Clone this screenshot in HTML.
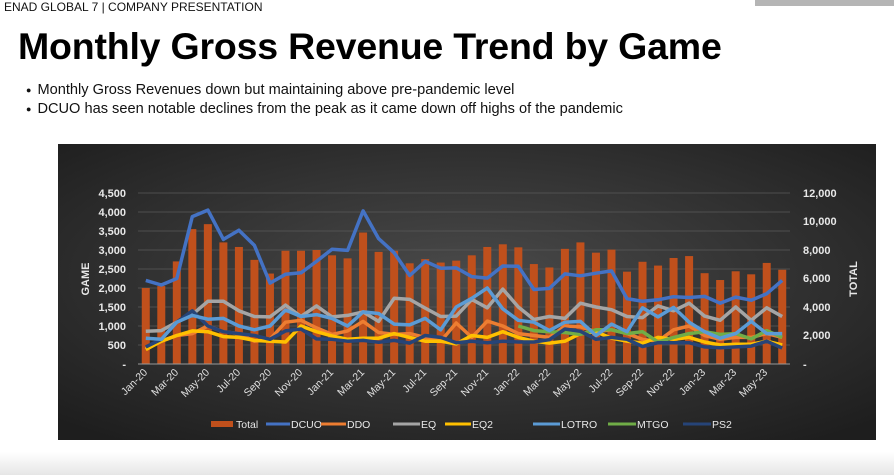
<!DOCTYPE html>
<html><head><meta charset="utf-8"><style>
body{margin:0;width:894px;height:475px;background:#fff;overflow:hidden;position:relative;font-family:"Liberation Sans",sans-serif}
.hdr{position:absolute;left:4px;top:0px;font-size:12px;color:#111}
.bar{position:absolute;left:755px;top:0;width:139px;height:6px;background:#b5b5b5}
h1{position:absolute;left:18px;top:25px;margin:0;font-size:37.5px;font-weight:bold;color:#000;letter-spacing:-0.2px}
ul{position:absolute;left:26px;top:81px;margin:0;padding:0;list-style:none;font-size:14.6px;color:#111;line-height:19px}
ul li:before{content:"\25CF";font-size:9px;margin-right:6px;vertical-align:1px}
svg{position:absolute;left:0;top:0}
.foot{position:absolute;left:0;top:452px;width:894px;height:23px;background:linear-gradient(#fff,#e6e6e6)}
</style></head><body>
<div class="hdr">ENAD GLOBAL 7 | COMPANY PRESENTATION</div>
<div class="bar"></div>
<h1>Monthly Gross Revenue Trend by Game</h1>
<ul><li>Monthly Gross Revenues down but maintaining above pre-pandemic level</li>
<li>DCUO has seen notable declines from the peak as it came down off highs of the pandemic</li></ul>
<div class="foot"></div>
<svg width="894" height="475" font-family="Liberation Sans, sans-serif">
<defs><radialGradient id="bg" cx="0.5" cy="0.45" r="0.7"><stop offset="0" stop-color="#4a4a4a"/><stop offset="1" stop-color="#1e1e1e"/></radialGradient></defs>
<rect x="58" y="144" width="818" height="296" fill="url(#bg)"/>
<g id="grid" stroke="#5a5a5a" stroke-width="0.7"></g>
<g id="bars" fill="#c0501c"></g>
<g id="lines" fill="none" stroke-width="3.5" stroke-linejoin="round"></g>
<line x1="138" y1="364" x2="790" y2="364" stroke="#999" stroke-width="1"/>
<g fill="#e8e8e8" font-size="11" font-weight="bold" text-anchor="end">
<text x="126" y="197">4,500</text><text x="126" y="216">4,000</text><text x="126" y="235">3,500</text><text x="126" y="254">3,000</text><text x="126" y="273">2,500</text><text x="126" y="292">2,000</text><text x="126" y="311">1,500</text><text x="126" y="330">1,000</text><text x="126" y="349">500</text><text x="126" y="368">-</text>
</g>
<g fill="#e8e8e8" font-size="11" font-weight="bold">
<text x="803" y="197">12,000</text><text x="803" y="225">10,000</text><text x="803" y="254">8,000</text><text x="803" y="282">6,000</text><text x="803" y="311">4,000</text><text x="803" y="339">2,000</text><text x="803" y="368">-</text>
</g>
<text transform="translate(89,279) rotate(-90)" fill="#e8e8e8" font-size="11" font-weight="bold" text-anchor="middle">GAME</text>
<text transform="translate(857,279) rotate(-90)" fill="#e8e8e8" font-size="11" font-weight="bold" text-anchor="middle">TOTAL</text>
<g fill="#e0e0e0" font-size="10.5" text-anchor="end">
<text transform="translate(148,373) rotate(-45)">Jan-20</text>
<text transform="translate(179,373) rotate(-45)">Mar-20</text>
<text transform="translate(210,373) rotate(-45)">May-20</text>
<text transform="translate(241,373) rotate(-45)">Jul-20</text>
<text transform="translate(272,373) rotate(-45)">Sep-20</text>
<text transform="translate(303,373) rotate(-45)">Nov-20</text>
<text transform="translate(334,373) rotate(-45)">Jan-21</text>
<text transform="translate(365,373) rotate(-45)">Mar-21</text>
<text transform="translate(396,373) rotate(-45)">May-21</text>
<text transform="translate(427,373) rotate(-45)">Jul-21</text>
<text transform="translate(458,373) rotate(-45)">Sep-21</text>
<text transform="translate(489,373) rotate(-45)">Nov-21</text>
<text transform="translate(520,373) rotate(-45)">Jan-22</text>
<text transform="translate(551,373) rotate(-45)">Mar-22</text>
<text transform="translate(582,373) rotate(-45)">May-22</text>
<text transform="translate(613,373) rotate(-45)">Jul-22</text>
<text transform="translate(644,373) rotate(-45)">Sep-22</text>
<text transform="translate(675,373) rotate(-45)">Nov-22</text>
<text transform="translate(706,373) rotate(-45)">Jan-23</text>
<text transform="translate(737,373) rotate(-45)">Mar-23</text>
<text transform="translate(768,373) rotate(-45)">May-23</text>
</g>
<g font-size="10.5" fill="#e8e8e8">
<rect x="211" y="421" width="22" height="6" fill="#c0501c"/><text x="236" y="428">Total</text>
<line x1="266" y1="424" x2="290" y2="424" stroke="#4472c4" stroke-width="3"/><text x="291" y="428">DCUO</text>
<line x1="321" y1="424" x2="346" y2="424" stroke="#ed7d31" stroke-width="3"/><text x="347" y="428">DDO</text>
<line x1="393" y1="424" x2="420" y2="424" stroke="#a5a5a5" stroke-width="3"/><text x="421" y="428">EQ</text>
<line x1="445" y1="424" x2="471" y2="424" stroke="#ffc000" stroke-width="3"/><text x="472" y="428">EQ2</text>
<line x1="533" y1="424" x2="560" y2="424" stroke="#5b9bd5" stroke-width="3"/><text x="561" y="428">LOTRO</text>
<line x1="608" y1="424" x2="636" y2="424" stroke="#70ad47" stroke-width="3"/><text x="637" y="428">MTGO</text>
<line x1="683" y1="424" x2="711" y2="424" stroke="#264478" stroke-width="3"/><text x="712" y="428">PS2</text>
</g>
</svg>
<script>
var X0=138,W=652/42;function cx(i){return X0+W*(i+0.5)}function Y(v){return 364-v*171/4500}
var g=document.getElementById('grid'),s='';
for(var k=1;k<=9;k++){s+='<line x1="138" x2="790" y1="'+Y(k*500)+'" y2="'+Y(k*500)+'"/>'}g.innerHTML=s;
var tot=[2000,2050,2700,3550,3680,3200,3080,2740,2380,2980,2980,3000,2860,2780,3460,2950,2980,2650,2760,2670,2720,2860,3080,3150,3070,2630,2540,3030,3200,2930,3010,2430,2690,2590,2790,2840,2390,2210,2440,2360,2660,2480];
s='';tot.forEach(function(v,i){s+='<rect x="'+(cx(i)-4)+'" y="'+Y(v)+'" width="8" height="'+(364-Y(v))+'"/>'});document.getElementById('bars').innerHTML=s;
var S=[
['#ed7d31',0,[400,600,750,800,1000,850,800,600,650,1100,1150,950,780,870,1120,830,780,800,700,600,1080,700,1130,1000,800,750,700,1000,980,850,900,800,650,600,900,1000,750,650,700,700,800,700]],
['#a5a5a5',0,[860,880,1100,1300,1650,1650,1400,1250,1240,1550,1250,1530,1240,1280,1370,1120,1730,1700,1470,1250,1260,1700,1480,1970,1500,1170,1250,1200,1600,1500,1430,1250,1220,1530,1400,1600,1260,1150,1500,1150,1480,1250]],
['#ffc000',0,[380,600,750,870,850,720,700,620,600,580,1000,850,740,650,680,680,800,700,600,600,530,750,700,850,700,600,550,600,800,850,680,600,550,700,650,700,580,500,520,520,600,500]],
['#70ad47',24,[1000,880,850,830,780,900,900,800,850,580,700,800,850,780,800,660,880,700]],
['#264478',0,[450,650,1100,1400,1000,850,800,750,650,870,920,660,650,600,620,570,620,550,750,700,560,600,560,600,580,580,640,920,860,650,700,650,460,560,560,560,450,430,450,470,600,420]],
['#5b9bd5',0,[680,650,1100,1280,1180,1200,1000,900,1000,1420,1250,1300,1200,1000,1370,1330,1050,1030,1200,900,1500,1730,2000,1450,1150,1100,880,1100,1120,750,1050,850,1480,1240,1490,1100,850,680,800,1120,800,800]],
['#4472c4',0,[2200,2080,2250,3880,4050,3280,3520,3120,2130,2360,2400,2700,3020,2990,4030,3300,2930,2330,2700,2520,2530,2300,2260,2580,2570,1960,1990,2370,2320,2390,2450,1720,1650,1690,1770,1750,1780,1600,1760,1680,1850,2200]]];
s='';S.forEach(function(a){var p=a[2].map(function(v,j){return cx(j+a[1]).toFixed(1)+','+Y(v).toFixed(1)}).join(' ');s+='<polyline stroke="'+a[0]+'" points="'+p+'"/>'});
document.getElementById('lines').innerHTML=s;
</script>
</body></html>
